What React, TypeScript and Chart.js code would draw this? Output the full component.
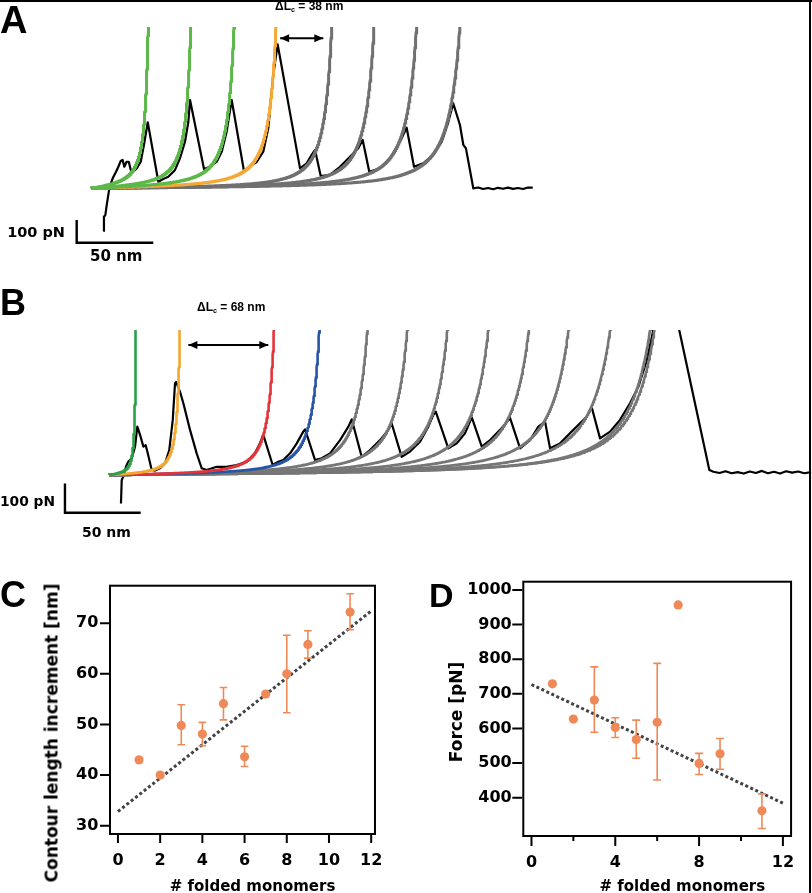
import React, { useEffect, useRef } from 'react';
import { Chart, registerables } from 'chart.js';

Chart.register(...registerables);

// ================= Panel A: force–extension trace (x in nm, F in pN) =================
const aTraceX = [7.6, 8.0, 8.9, 9.8, 11.5, 13.7, 15.9, 17.4, 18.9, 20.2, 21.3, 22.8, 24.2, 25.5, 27.2, 29.4, 32.0, 34.1, 36.6,
  43.5, 46.7, 50.0, 54.4, 57.6, 60.9, 63.1, 64.2,
  73.3, 77.2, 81.6, 84.9, 88.1, 89.8, 91.4,
  99.4, 103.3, 107.7, 112.0, 115.3, 118.5, 121.4,
  136.0, 140.3, 143.6, 145.8,
  149.5, 155.5, 162.1, 168.6, 174.0, 176.9,
  181.2, 188.2, 194.7, 201.2, 205.6,
  210.4, 216.4, 223.0, 228.5, 232.8, 236.0,
  240.4, 242.6, 244.3, 249.1,
  252.3, 255.5, 258.8, 262.0, 265.3, 268.5, 271.8, 275.0, 278.3, 281.6, 284.8, 287.9];
const aTraceF = [-188, -125, -118, -74, 0, 44, 73, 95, 120, 125, 95, 117, 117, 81, 73, 88, 117, 191, 291,
  29, 41, 51, 81, 132, 205, 293, 389,
  85, 95, 117, 161, 249, 323, 389,
  76, 98, 116, 161, 266, 499, 634,
  88, 110, 147, 169,
  54, 59, 95, 139, 176, 213,
  73, 88, 132, 205, 267,
  95, 110, 147, 205, 293, 374,
  279, 191, 176, 0,
  3.5, -3, 1.3, -4, 2.2, -2.2, 3.1, -2.6, 1.3, -3, 3.5, 2.6];
// WLC fits: contour length Lc (nm), persistence length p (nm)
const aFitLc = [41.3, 71.1, 101.3, 129.7, 166.1, 195.4, 224.8, 254.8];
const aFitP = [0.13, 0.18, 0.215, 0.28, 0.45, 0.45, 0.45, 0.45];
const aFitKind = ['green', 'green', 'green', 'orange', 'gray', 'gray', 'gray', 'gray'];
const aArrowX = [123.0, 151.2];
const aArrowF = 661;
const aDeltaLc = 38;
const aScaleBarOrigin = [-9.8, -239.6];

// ================= Panel B =================
const bTraceX = [7.7, 8.2, 9.2, 11.0, 12.5, 14.8, 17.0, 18.5, 20.3, 22.5, 24.0, 25.1, 28.0, 30.2, 33.5, 36.8, 39.6, 41.9, 43.4, 44.1,
  46.7, 48.9, 53.3, 57.7, 61.0, 64.3, 70.9, 77.5, 84.1, 90.8, 96.2, 99.5, 101.7,
  107.9, 111.6, 114.9, 119.4, 123.8, 128.1, 129.3,
  135.9, 140.3, 145.8, 152.4, 157.9, 160.1,
  166.7, 172.2, 178.8, 184.3, 186.5,
  193.1, 198.6, 205.2, 210.7, 214.0, 215.6,
  223.9, 229.5, 234.9, 239.4,
  246.0, 251.5, 258.1, 264.7,
  271.3, 277.9, 283.4, 287.8,
  291.1, 297.7, 306.5, 315.3, 318.6,
  324.1, 330.7, 337.3, 343.9, 349.4, 355.0, 359.3,
  367.4, 376.4, 396.3,
  399.0, 403, 407, 411, 415, 419, 423, 427, 431, 435, 439, 443, 447, 451, 455, 459, 463.5];
const bTraceF = [-97, -17, -6, 28, 45, 57, 97, 165, 137, 97, 102, 80, 17, 15, 23, 40, 85, 188, 313, 318,
  284, 245, 154, 74, 23, 17, 28, 28, 34, 45, 74, 108, 137,
  34, 45, 51, 74, 108, 148, 156,
  51, 57, 74, 119, 165, 190,
  62, 85, 119, 154, 176,
  62, 80, 114, 165, 205, 216,
  91, 108, 142, 197,
  97, 119, 154, 194,
  91, 119, 165, 182,
  91, 108, 154, 199, 231,
  125, 148, 188, 245, 301, 392, 495,
  717, 495, 17,
  11, 7, 13, 6, 10, 5, 12, 7, 14, 6, 11, 5, 13, 8, 12, 6, 10];
const bFitLc = [19.0, 50.4, 116.4, 148.4, 184.0, 212.5, 241.1, 270.3, 299.2, 327.5, 357.2, 385.7, 388.8];
const bFitP = [0.384, 0.384, 0.49, 0.49, 0.384, 0.384, 0.384, 0.384, 0.384, 0.384, 0.384, 0.384, 0.384];
const bFitKind = ['green', 'orange', 'red', 'blue', 'gray', 'gray', 'gray', 'gray', 'gray', 'gray', 'gray', 'gray', 'gray'];
const bArrowX = [52.2, 105.0];
const bArrowF = 443.7;
const bDeltaLc = 68;
const bScaleBarOrigin = [-29.3, -128.7];

const SCALE_NM = 50;
const SCALE_PN = 100;
const KT = 4.11; // pN·nm

// ================= Panel C =================
const monomers = [1, 2, 3, 4, 5, 6, 7, 8, 9, 11];
const cIncrement = [43.0, 40.0, 49.8, 48.1, 54.1, 43.6, 56.0, 60.0, 65.8, 72.2];
const cLow = [null, null, 46.0, 45.8, 50.9, 41.7, null, 52.3, 63.1, 68.7];
const cHigh = [null, null, 53.9, 50.4, 57.3, 45.7, null, 67.6, 68.5, 75.8];
const cFitX = [0, 12];
const cFitY = [32.8, 72.4];
const cXTicks = [0, 2, 4, 6, 8, 10, 12];
const cYTicks = [30, 40, 50, 60, 70];

// ================= Panel D =================
const dForce = [729, 627, 682, 603, 568, 618, 957, 499, 527, 362];
const dLow = [null, null, 589, 574, 514, 451, null, 467, 482, 311];
const dHigh = [null, null, 778, 631, 624, 788, null, 528, 571, 411];
const dFitX = [0, 12];
const dFitY = [727, 384];
const dXTicks = [0, 2, 4, 6, 8, 10, 12];
const dYTicks = [400, 500, 600, 700, 800, 900, 1000];

// ================= styles =================
const ORANGE_PT = 'rgb(239,138,88)';
const FIT_GRAY = 'rgb(66,66,66)';
const A_COLORS: Record<string, string> = { green: 'rgb(92,184,73)', orange: 'rgb(246,168,52)', gray: 'rgb(112,112,112)' };
const B_COLORS: Record<string, string> = { green: 'rgb(42,160,72)', orange: 'rgb(244,166,46)', red: 'rgb(228,52,58)', blue: 'rgb(38,84,166)', gray: 'rgb(118,118,118)' };
const TICK_FONT = { family: 'DejaVu Sans', size: 16, weight: 'bold' as const };

function wlc(Lc: number, p: number, fStop: number) {
  const a = KT / p;
  const pts: { x: number; y: number }[] = [];
  for (let i = 0; i < 1000; i++) {
    const r = i / 1000;
    const f = a * (1 / (4 * (1 - r) * (1 - r)) - 0.25 + r);
    pts.push({ x: r * Lc, y: f });
    if (f > fStop) break;
  }
  return pts;
}

const arrowPlugin = {
  id: 'arrowHeads',
  afterDatasetsDraw(chart: any) {
    const ctx = chart.ctx;
    chart.data.datasets.forEach((ds: any, i: number) => {
      if (!ds.arrow) return;
      const pts = chart.getDatasetMeta(i).data;
      const p0 = pts[0], p1 = pts[pts.length - 1];
      const head = (tip: any, from: any) => {
        const ang = Math.atan2(tip.y - from.y, tip.x - from.x);
        const L = 9, W = 4;
        ctx.beginPath();
        ctx.moveTo(tip.x, tip.y);
        ctx.lineTo(tip.x - L * Math.cos(ang) + W * Math.sin(ang), tip.y - L * Math.sin(ang) - W * Math.cos(ang));
        ctx.lineTo(tip.x - L * Math.cos(ang) - W * Math.sin(ang), tip.y - L * Math.sin(ang) + W * Math.cos(ang));
        ctx.closePath();
        ctx.fill();
      };
      ctx.save();
      ctx.fillStyle = '#000';
      head(p0, p1);
      head(p1, p0);
      ctx.restore();
    });
  },
};

type View = { xMin: number; xMax: number; fMin: number; fMax: number; padTop: number };

function traceConfig(s: {
  traceX: number[]; traceF: number[]; fitLc: number[]; fitP: number[]; fitKind: string[];
  colors: Record<string, string>; fitWidth: number; arrowX: number[]; arrowF: number; bar: number[]; view: View;
}) {
  const datasets: any[] = [];
  datasets.push({
    type: 'line',
    data: [{ x: s.bar[0], y: s.bar[1] + SCALE_PN }, { x: s.bar[0], y: s.bar[1] }, { x: s.bar[0] + SCALE_NM, y: s.bar[1] }],
    borderColor: '#000', borderWidth: 2.4, pointRadius: 0, order: 0, borderJoinStyle: 'miter', borderCapStyle: 'butt',
  });
  datasets.push({
    type: 'line', arrow: true,
    data: [{ x: s.arrowX[0], y: s.arrowF }, { x: s.arrowX[1], y: s.arrowF }],
    borderColor: '#000', borderWidth: 2, pointRadius: 0, order: 0,
  });
  s.fitLc.forEach((Lc, i) => {
    datasets.push({
      type: 'line',
      data: wlc(Lc, s.fitP[i], s.view.fMax * 1.3),
      borderColor: s.colors[s.fitKind[i]],
      borderWidth: s.fitWidth,
      pointRadius: 0,
      clip: 0,
      order: s.fitKind[i] === 'gray' ? 3 : 2,
    });
  });
  datasets.push({
    type: 'line',
    data: s.traceX.map((x, i) => ({ x, y: s.traceF[i] })),
    borderColor: '#000', borderWidth: 2.2, pointRadius: 0, order: 4, borderJoinStyle: 'round', clip: 0,
  });
  return {
    type: 'scatter',
    data: { datasets },
    options: {
      responsive: false, animation: false, events: [],
      layout: { padding: { top: s.view.padTop, left: 0, right: 0, bottom: 0 } },
      plugins: { legend: { display: false }, tooltip: { enabled: false } },
      scales: {
        x: { type: 'linear', display: false, min: s.view.xMin, max: s.view.xMax },
        y: { type: 'linear', display: false, min: s.view.fMin, max: s.view.fMax },
      },
    },
    plugins: [arrowPlugin],
  };
}

function errorSegments(xs: number[], lo: (number | null)[], hi: (number | null)[], cap: number) {
  const out: { x: number; y: number | null }[] = [];
  xs.forEach((x, i) => {
    const l = lo[i], h = hi[i];
    if (l == null || h == null) return;
    out.push({ x, y: l }, { x, y: h }, { x, y: null });
    out.push({ x: x - cap, y: h }, { x: x + cap, y: h }, { x, y: null });
    out.push({ x: x - cap, y: l }, { x: x + cap, y: l }, { x, y: null });
  });
  return out;
}

function framePlugin(xTicks: number[], isMajor: (v: number) => boolean, yTicks: number[], xLen: number, xMinorLen: number, yLen: number) {
  return {
    id: 'frame',
    afterDraw(chart: any) {
      const { ctx, chartArea: a, scales } = chart;
      ctx.save();
      ctx.strokeStyle = '#000';
      ctx.lineWidth = 2;
      ctx.strokeRect(a.left, a.top, a.right - a.left, a.bottom - a.top);
      ctx.beginPath();
      xTicks.forEach((v) => {
        const px = scales.x.getPixelForValue(v);
        ctx.moveTo(px, a.bottom + 1);
        ctx.lineTo(px, a.bottom + (isMajor(v) ? xLen : xMinorLen));
      });
      yTicks.forEach((v) => {
        const py = scales.y.getPixelForValue(v);
        ctx.moveTo(a.left - 1, py);
        ctx.lineTo(a.left - yLen, py);
      });
      ctx.stroke();
      ctx.restore();
    },
  };
}

function scatterConfig(s: {
  y: number[]; lo: (number | null)[]; hi: (number | null)[]; cap: number; fitX: number[]; fitY: number[];
  xMin: number; xMax: number; yMin: number; yMax: number; xTicks: number[]; yTicks: number[];
  padTop: number; padRight: number; xAxisH: number; yAxisW: number; xPad: number; yPad: number;
  isMajor: (v: number) => boolean; xLen: number; xMinorLen: number; yLen: number;
}) {
  return {
    type: 'scatter',
    data: {
      datasets: [
        { type: 'scatter', data: monomers.map((x, i) => ({ x, y: s.y[i] })), pointRadius: 4.6, pointBackgroundColor: ORANGE_PT, pointBorderWidth: 0, order: 0 },
        { type: 'line', data: errorSegments(monomers, s.lo, s.hi, s.cap), borderColor: ORANGE_PT, borderWidth: 1.6, pointRadius: 0, spanGaps: false, order: 1 },
        { type: 'line', data: s.fitX.map((x, i) => ({ x, y: s.fitY[i] })), borderColor: FIT_GRAY, borderWidth: 3, borderDash: [3, 2.5], borderCapStyle: 'butt', pointRadius: 0, order: 2 },
      ],
    },
    options: {
      responsive: false, animation: false, events: [],
      layout: { padding: { top: s.padTop, right: s.padRight, left: 0, bottom: 0 } },
      plugins: { legend: { display: false }, tooltip: { enabled: false } },
      scales: {
        x: {
          type: 'linear', min: s.xMin, max: s.xMax,
          grid: { display: false, drawTicks: false }, border: { display: false },
          afterFit: (sc: any) => { sc.height = s.xAxisH; },
          afterBuildTicks: (sc: any) => { sc.ticks = s.xTicks.map((v) => ({ value: v })); },
          ticks: { padding: s.xPad, color: '#000', font: TICK_FONT, maxRotation: 0, autoSkip: false, callback: (v: any) => (s.isMajor(Number(v)) ? String(v) : '') },
        },
        y: {
          type: 'linear', min: s.yMin, max: s.yMax,
          grid: { display: false, drawTicks: false }, border: { display: false },
          afterFit: (sc: any) => { sc.width = s.yAxisW; },
          afterBuildTicks: (sc: any) => { sc.ticks = s.yTicks.map((v) => ({ value: v })); },
          ticks: { padding: s.yPad, color: '#000', font: TICK_FONT, autoSkip: false, callback: (v: any) => String(v) },
        },
      },
    },
    plugins: [framePlugin(s.xTicks, s.isMajor, s.yTicks, s.xLen, s.xMinorLen, s.yLen)],
  };
}

function ChartBox({ left, top, width, height, make }: { left: number; top: number; width: number; height: number; make: () => any }) {
  const ref = useRef<HTMLCanvasElement>(null);
  useEffect(() => {
    const chart = new Chart(ref.current as HTMLCanvasElement, make());
    return () => chart.destroy();
  }, []);
  return <canvas ref={ref} width={width} height={height} style={{ position: 'absolute', left, top, width, height }} />;
}

function Label({ x, y, size, text, family = 'DejaVu Sans', align = 'left' }: { x: number; y: number; size: number; text: React.ReactNode; family?: string; align?: string }) {
  const tx = align === 'left' ? '0' : align === 'center' ? '-50%' : '-100%';
  return (
    <div style={{ position: 'absolute', left: x, top: y - 0.846 * size, fontFamily: family, fontSize: size, fontWeight: 'bold', lineHeight: `${size}px`, whiteSpace: 'nowrap', transform: `translateX(${tx})`, color: '#000' }}>
      {text}
    </div>
  );
}

function VTitle({ cx, cy, size, text }: { cx: number; cy: number; size: number; text: string }) {
  return (
    <div style={{ position: 'absolute', left: cx, top: cy, transform: 'translate(-50%,-50%) rotate(-90deg)', fontFamily: 'DejaVu Sans', fontWeight: 'bold', fontSize: size, lineHeight: `${size}px`, whiteSpace: 'nowrap', color: '#000' }}>
      {text}
    </div>
  );
}

const deltaLabel = (v: number) => (
  <span>ΔL<sub style={{ fontSize: '0.6em', verticalAlign: '-0.25em', lineHeight: 0 }}>c</sub> = {v} nm</span>
);

export default function App() {
  return (
    <div style={{ position: 'absolute', left: 0, top: 0, width: 812, height: 893, background: '#fff', overflow: 'hidden' }}>
      <ChartBox left={0} top={0} width={812} height={280} make={() => traceConfig({
        traceX: aTraceX, traceF: aTraceF, fitLc: aFitLc, fitP: aFitP, fitKind: aFitKind, colors: A_COLORS, fitWidth: 3,
        arrowX: aArrowX, arrowF: aArrowF, bar: aScaleBarOrigin,
        view: { xMin: -59.86, xMax: 470.2, fMin: -404.0, fMax: 710.6, padTop: 27 },
      })} />
      <ChartBox left={0} top={280} width={812} height={260} make={() => traceConfig({
        traceX: bTraceX, traceF: bTraceF, fitLc: bFitLc, fitP: bFitP, fitKind: bFitKind, colors: B_COLORS, fitWidth: 2.6,
        arrowX: bArrowX, arrowF: bArrowF, bar: bScaleBarOrigin,
        view: { xMin: -72.2, xMax: 464.1, fMin: -221.8, fMax: 494.9, padTop: 50 },
      })} />
      <ChartBox left={0} top={540} width={400} height={353} make={() => scatterConfig({
        y: cIncrement, lo: cLow, hi: cHigh, cap: 0.18, fitX: cFitX, fitY: cFitY,
        xMin: -0.377, xMax: 12.18, yMin: 28.36, yMax: 77.4, xTicks: cXTicks, yTicks: cYTicks,
        padTop: 45.7, padRight: 13, xAxisH: 59, yAxisW: 110, xPad: 17.5, yPad: 11.7,
        isMajor: () => true, xLen: 9, xMinorLen: 9, yLen: 10,
      })} />
      <ChartBox left={400} top={540} width={412} height={353} make={() => scatterConfig({
        y: dForce, lo: dLow, hi: dHigh, cap: 0.19, fitX: dFitX, fitY: dFitY,
        xMin: -0.39, xMax: 12.39, yMin: 289.3, yMax: 1024, xTicks: dXTicks, yTicks: dYTicks,
        padTop: 41.7, padRight: 15.3, xAxisH: 57, yAxisW: 123.3, xPad: 17.5, yPad: 11.6,
        isMajor: (v) => v % 4 === 0, xLen: 10, xMinorLen: 5, yLen: 11,
      })} />

      {/* panel letters */}
      <Label x={0} y={33} size={38} family="Liberation Sans" text="A" />
      <Label x={0} y={315} size={36} family="Liberation Sans" text="B" />
      <Label x={0} y={607.5} size={36} family="Liberation Sans" text="C" />
      <Label x={429} y={606.7} size={34} family="Liberation Sans" text="D" />

      {/* ΔLc labels */}
      <Label x={275} y={10.5} size={12} family="Liberation Sans" text={deltaLabel(aDeltaLc)} />
      <Label x={197} y={311} size={12} family="Liberation Sans" text={deltaLabel(bDeltaLc)} />

      {/* scale bar labels */}
      <Label x={65} y={237.3} size={14.5} align="right" text={`${SCALE_PN} pN`} />
      <Label x={90} y={261.7} size={15} text={`${SCALE_NM} nm`} />
      <Label x={55} y={506.7} size={13.8} align="right" text={`${SCALE_PN} pN`} />
      <Label x={82} y={537} size={14} text={`${SCALE_NM} nm`} />

      {/* axis titles */}
      <VTitle cx={52} cy={733} size={17} text="Contour length increment [nm]" />
      <Label x={252.5} y={891.5} size={15} align="center" text="# folded monomers" />
      <VTitle cx={456} cy={712} size={17} text="Force [pN]" />
      <Label x={682.3} y={892} size={15} align="center" text="# folded monomers" />

      {/* figure border lines */}
      <div style={{ position: 'absolute', left: 0, top: 0, width: 812, height: 2, background: '#000' }} />
      <div style={{ position: 'absolute', left: 809, top: 0, width: 2, height: 893, background: '#000' }} />
    </div>
  );
}
